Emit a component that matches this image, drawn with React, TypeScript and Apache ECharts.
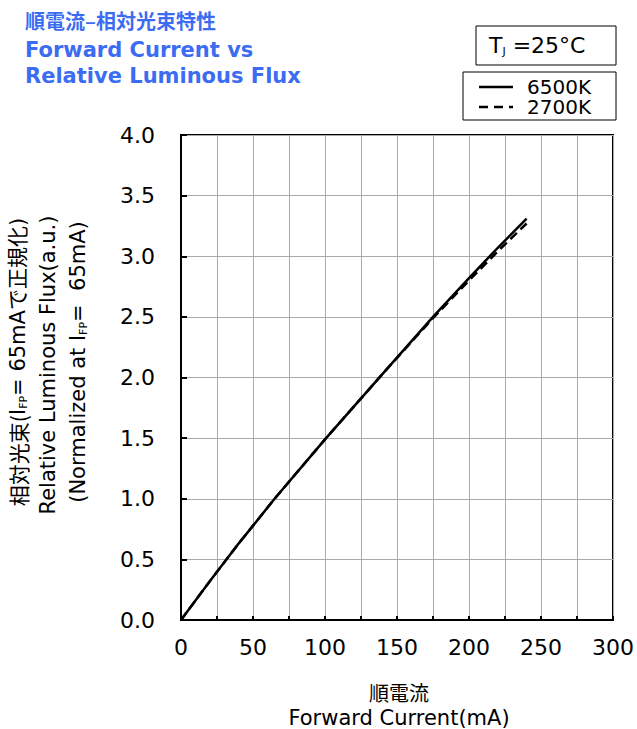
import React, { useEffect, useRef } from "react";
import * as echarts from "echarts";

const currents = [0, 20, 40, 65, 100, 140, 175, 200, 220, 240];
const flux6500K = [0, 0.32, 0.63, 1.0, 1.49, 2.03, 2.5, 2.82, 3.07, 3.31];
const flux2700K = [0, 0.32, 0.63, 1.0, 1.49, 2.03, 2.49, 2.8, 3.04, 3.27];
const seriesNames = ["6500K", "2700K"];
const titleLines = ["順電流–相対光束特性", "Forward Current vs", "Relative Luminous Flux"];

const FONT = "'DejaVu Sans', 'Noto Sans CJK JP', sans-serif";

export default function App() {
  const ref = useRef<HTMLDivElement>(null);
  useEffect(() => {
    if (!ref.current) return;
    const chart = echarts.init(ref.current, undefined, { renderer: "svg" });
    const pair = (ys: number[]) => currents.map((x, i) => [x, ys[i]]);
    chart.setOption({
      animation: false,
      textStyle: { fontFamily: FONT },
      grid: { left: 181, top: 135, right: 20, bottom: 109, show: true, borderColor: "#000", borderWidth: 2, backgroundColor: "transparent" },
      xAxis: {
        type: "value", min: 0, max: 300, interval: 25,
        axisLine: { lineStyle: { color: "#000", width: 2 } },
        axisTick: { inside: true, length: 4, interval: 1, lineStyle: { color: "#000", width: 2 } },
        axisLabel: { color: "#000", fontSize: 22, fontFamily: FONT, margin: 16, formatter: (v: number) => (v % 50 === 0 ? String(v) : "") },
        splitLine: { show: true, lineStyle: { color: "#aaa", width: 1 } },
      },
      yAxis: {
        type: "value", min: 0, max: 4, interval: 0.5,
        axisLine: { lineStyle: { color: "#000", width: 2 } },
        axisTick: { inside: true, length: 6, lineStyle: { color: "#000", width: 2 } },
        axisLabel: { color: "#000", fontSize: 22, fontFamily: FONT, margin: 26, formatter: (v: number) => v.toFixed(1) },
        splitLine: { show: true, lineStyle: { color: "#aaa", width: 1 } },
      },
      series: [
        { name: seriesNames[0], type: "line", data: pair(flux6500K), showSymbol: false, lineStyle: { color: "#000", width: 2.5 }, z: 3 },
        { name: seriesNames[1], type: "line", data: pair(flux2700K), showSymbol: false, lineStyle: { color: "#000", width: 2.5, type: [9, 5] }, z: 2 },
      ],
      graphic: [
        { type: "text", left: 25, top: 10, style: { text: titleLines[0], fill: "#3b6cf2", font: "bold 20px 'Noto Sans CJK JP', sans-serif" } },
        { type: "text", left: 25, top: 39, style: { text: titleLines[1], fill: "#3b6cf2", font: "bold 21px 'DejaVu Sans', sans-serif" } },
        { type: "text", left: 25, top: 65, style: { text: titleLines[2], fill: "#3b6cf2", font: "bold 21px 'DejaVu Sans', sans-serif" } },
        { type: "rect", shape: { x: 476, y: 26, width: 140, height: 39 }, style: { fill: "#fff", stroke: "#000", lineWidth: 1 } },
        { type: "text", x: 489, y: 45, style: { text: "{t|T}{s|J}{t| =25°C}", verticalAlign: "middle", rich: { t: { fontSize: 22, fontFamily: FONT, fill: "#000" }, s: { fontSize: 11, fontFamily: FONT, fill: "#000", padding: [13, 0, 0, 0] } } } },
        { type: "rect", shape: { x: 463, y: 72, width: 153, height: 48 }, style: { fill: "#fff", stroke: "#000", lineWidth: 1 } },
        { type: "line", shape: { x1: 479, y1: 87, x2: 513, y2: 87 }, style: { stroke: "#000", lineWidth: 2.5 } },
        { type: "line", shape: { x1: 479, y1: 107, x2: 513, y2: 107 }, style: { stroke: "#000", lineWidth: 2.5, lineDash: [9, 6] } },
        { type: "text", x: 527, y: 97, style: { text: seriesNames.join("\n"), font: "20px 'DejaVu Sans', sans-serif", lineHeight: 20.5, fill: "#000", verticalAlign: "middle" } },
        { type: "text", x: 18, y: 362, rotation: Math.PI / 2, style: { text: "{c|相対光束(}{t|I}{s|FP}{t|= 65mAで正規化)}", align: "center", verticalAlign: "middle", rich: { c: { fontSize: 21, fontFamily: "'Noto Sans CJK JP', sans-serif", fill: "#000" }, t: { fontSize: 21, fontFamily: "'DejaVu Sans','Noto Sans CJK JP', sans-serif", fill: "#000" }, s: { fontSize: 11, fontFamily: FONT, fill: "#000", padding: [10, 0, 0, 0] } } } },
        { type: "text", x: 48, y: 365, rotation: Math.PI / 2, style: { text: "Relative Luminous Flux(a.u.)", font: "21px 'DejaVu Sans', sans-serif", fill: "#000", align: "center", verticalAlign: "middle" } },
        { type: "text", x: 78, y: 362, rotation: Math.PI / 2, style: { text: "{t|(Normalized at I}{s|FP}{t|=  65mA)}", align: "center", verticalAlign: "middle", rich: { t: { fontSize: 21, fontFamily: FONT, fill: "#000" }, s: { fontSize: 11, fontFamily: FONT, fill: "#000", padding: [10, 0, 0, 0] } } } },
        { type: "text", x: 399, y: 692, style: { text: "順電流", font: "20px 'Noto Sans CJK JP', sans-serif", fill: "#000", align: "center", verticalAlign: "middle" } },
        { type: "text", x: 399, y: 718, style: { text: "Forward Current(mA)", font: "21px 'DejaVu Sans', sans-serif", fill: "#000", align: "center", verticalAlign: "middle" } },
      ],
    });
    return () => chart.dispose();
  }, []);
  return <div ref={ref} style={{ width: 637, height: 729, position: "absolute", left: 0, top: 0 }} />;
}
